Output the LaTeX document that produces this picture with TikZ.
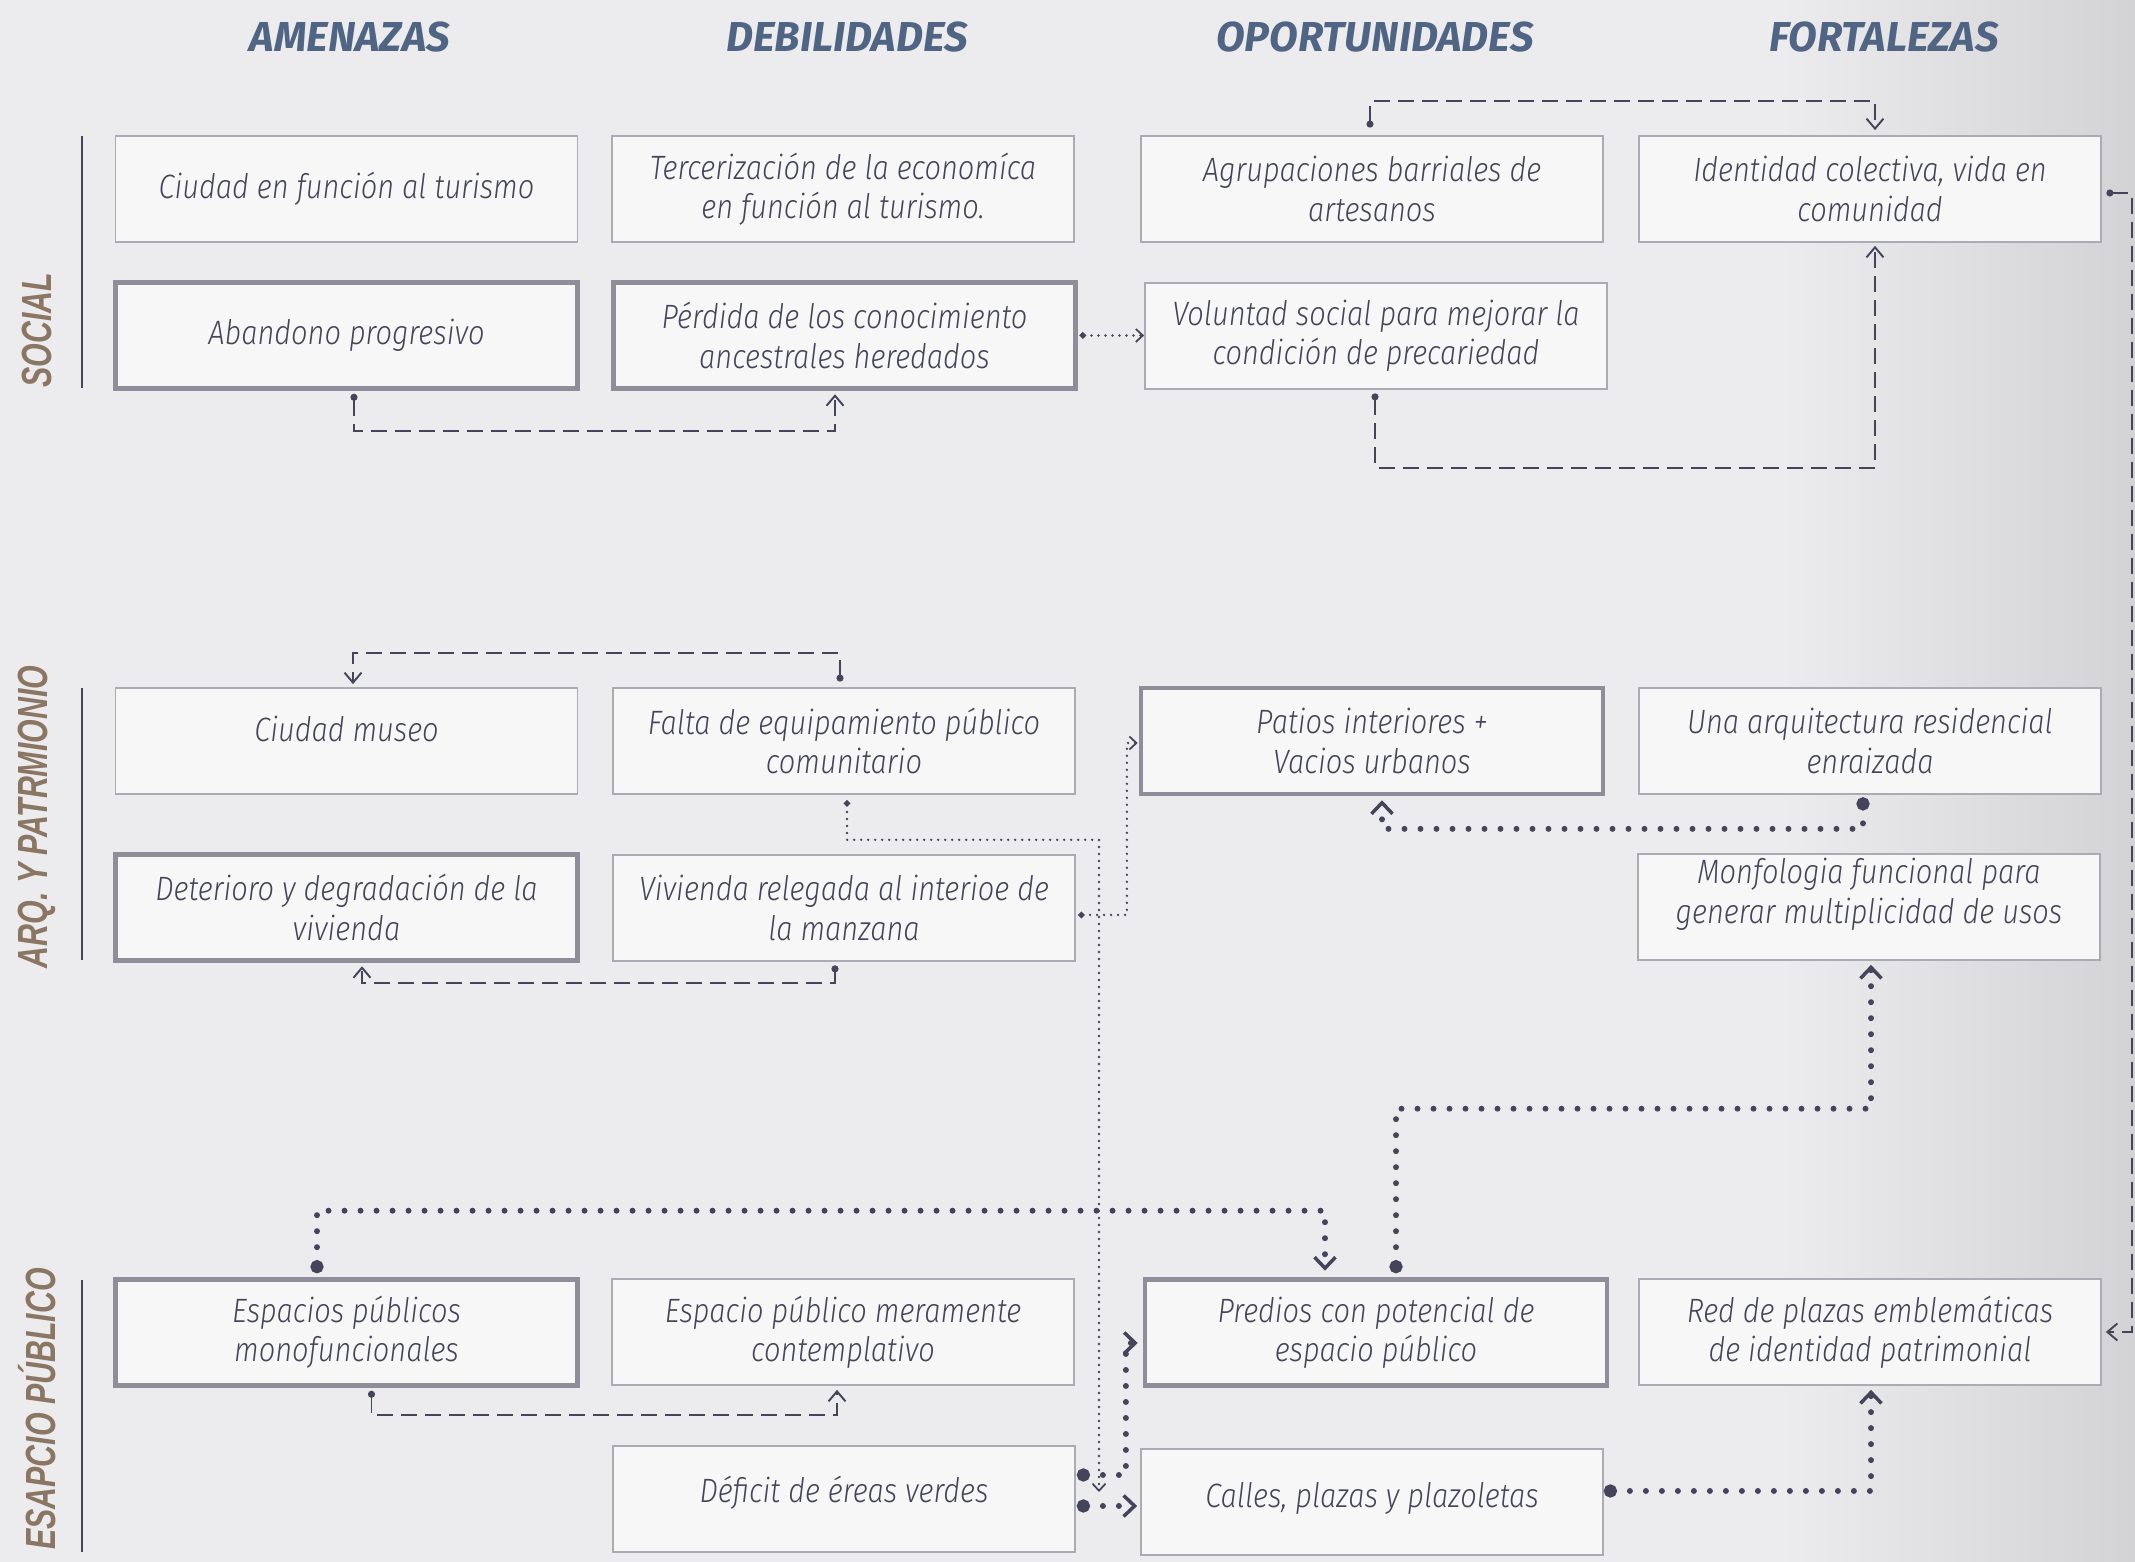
\documentclass[tikz,border=0pt]{standalone}
\usepackage{fontspec}
\setmainfont{Fira Sans}
\newfontfamily\boxfont{Fira Sans Light}[FakeStretch=0.86]
\newfontfamily\headfont{Fira Sans}
\newfontfamily\rowfont{Liberation Sans}
\usetikzlibrary{arrows.meta,positioning,shadings}
\definecolor{bgc}{HTML}{ECECEE}
\definecolor{edgec}{HTML}{D3D3D6}
\definecolor{boxfill}{HTML}{F7F7F7}
\definecolor{thinedge}{HTML}{ABABB6}
\definecolor{thickedge}{HTML}{8E8D99}
\definecolor{inkc}{HTML}{44445A}
\definecolor{headc}{HTML}{506583}
\definecolor{rowc}{HTML}{8A7662}
\tikzset{card/.style={draw=thinedge, line width=0.5pt, fill=boxfill, minimum width=4.62cm, minimum height=1.06cm,
  inner sep=0pt, align=center, text=inkc, font=\boxfont\itshape\fontsize{9.6}{11.2}\selectfont},
%boxes with the heavy frame
keycard/.style={card, draw=thickedge, line width=1.3pt},
colhead/.style={text=headc, font=\headfont\bfseries\itshape\fontsize{11.9}{14}\selectfont},
rowlabel/.style={rotate=90, text=rowc, font=\rowfont\bfseries\itshape\fontsize{12}{14}\selectfont},
dashlink/.style={draw=inkc, line width=0.55pt, dash pattern=on 1.6mm off 0.8mm,
  {Circle[length=0.7mm]}-{Straight Barb[length=1mm,width=1.7mm]}},
dotlink/.style={draw=inkc, line width=0.75pt, line cap=round, dash pattern=on 0pt off 0.7mm,
  {Circle[length=0.6mm]}-{Straight Barb[length=0.7mm,width=1.3mm,line width=0.5pt]}},
bigdots/.style={draw=inkc, line width=1.7pt, line cap=round, dash pattern=on 0pt off 1.6mm,
  {Circle[length=1.3mm]}-{Straight Barb[length=1.1mm,width=2.1mm,line width=1pt]}}}

\begin{document}
\begin{tikzpicture}

\useasboundingbox (0,0) rectangle (21.35,15.62);
\fill[bgc] (0,0) rectangle (21.35,15.62);
\shade[left color=bgc, right color=edgec] (17.8,0) rectangle (21.35,15.62);

% column heads
\node[colhead] (hA) at (3.50,15.25) {AMENAZAS};
\node[colhead] (hD) at (8.47,15.25) {DEBILIDADES};
\node[colhead] (hO) at (13.75,15.25) {OPORTUNIDADES};
\node[colhead] (hF) at (18.84,15.25) {FORTALEZAS};

% row labels
\node[rowlabel] (lsoc) at (0.37,12.32) {\scalebox{0.72}[1]{SOCIAL}};
\node[rowlabel] (larq) at (0.37,7.45) {\scalebox{0.72}[1]{ARQ. Y PATRMIONIO}};
\node[rowlabel] (lesp) at (0.37,1.53) {\scalebox{0.72}[1]{ESAPCIO PÚBLICO}};
\draw[inkc, line width=0.6pt] (0.82,14.26) -- (0.82,11.74);
\draw[inkc, line width=0.6pt] (0.82,8.74) -- (0.82,6.02);
\draw[inkc, line width=0.6pt] (0.82,2.82) -- (0.82,0.10);

% social
\node[card] (a1) at (3.465,13.73) {Ciudad en función al turismo};
\node[card] (d1) at (8.43,13.73) {Tercerización de la economíca\\en función al turismo.};
\node[card] (o1) at (13.72,13.73) {Agrupaciones barriales de\\artesanos};
\node[card] (f1) at (18.70,13.73) {Identidad colectiva, vida en\\comunidad};
\node[keycard] (a2) at (3.465,12.265) {Abandono progresivo};
\node[keycard] (d2) at (8.445,12.265) {Pérdida de los conocimiento\\ancestrales heredados};
\node[card] (o2) at (13.76,12.26) {Voluntad social para mejorar la\\condición de precariedad};

% arquitectura y patrimonio
\node[card, text depth=0.25cm] (a3) at (3.465,8.21) {Ciudad museo};
\node[card] (d3) at (8.44,8.21) {Falta de equipamiento público\\comunitario};
\node[keycard] (o3) at (13.72,8.21) {Patios interiores +\\Vacios urbanos};
\node[card] (f3) at (18.70,8.21) {Una arquitectura residencial\\enraizada};
\node[keycard] (a4) at (3.465,6.545) {Deterioro y degradación de la\\vivienda};
\node[card] (d4) at (8.44,6.54) {Vivienda relegada al interioe de\\la manzana};
\node[card] (f4) at (18.69,6.55) {Monfologia funcional para\\generar multiplicidad de usos\\[-2pt]~};

% espacio publico
\node[keycard] (a5) at (3.465,2.295) {Espacios públicos\\monofuncionales};
\node[card] (d5) at (8.43,2.30) {Espacio público meramente\\contemplativo};
\node[keycard] (o5) at (13.76,2.295) {Predios con potencial de\\espacio público};
\node[card] (f5) at (18.70,2.30) {Red de plazas emblemáticas\\de identidad patrimonial};
\node[card, text depth=0.2cm] (d6) at (8.44,0.63) {Déficit de éreas verdes};
\node[card, text depth=0.15cm] (o6) at (13.72,0.60) {Calles, plazas y plazoletas};
\coordinate (dropend) at (10.99,0.70);

% links, social
\draw[dashlink] ([xshift=0.75mm,yshift=-0.3mm]a2.south) -- ++(0,-0.375) -| ([xshift=-0.95mm,yshift=-0.35mm]d2.south);
\draw[dotlink] ([xshift=0.2mm]d2.east) -- (d2.east -| o2.west);
\draw[dashlink] ([xshift=-0.2mm,yshift=0.75mm]o1.north) -- ++(0,0.265) -| ([xshift=0.5mm,yshift=0.5mm]f1.north);
\draw[dashlink] ([xshift=-0.1mm,yshift=-0.35mm]o2.south) -- ++(0,-0.745) -| ([xshift=0.5mm,yshift=-0.3mm]f1.south);
\draw[dashlink] ([xshift=0.45mm,yshift=-0.4mm]f1.east) -- ++(0.255,0) |- ([xshift=0.4mm]f5.east);

% links, arq.
\draw[dashlink] ([xshift=-0.4mm,yshift=0.55mm]d3.north) -- ++(0,0.285) -| ([xshift=0.65mm,yshift=0.3mm]a3.north);
\draw[dashlink] ([xshift=-0.9mm,yshift=-0.35mm]d4.south) -- ++(0,-0.175) -| ([xshift=1.55mm,yshift=-0.35mm]a4.south);
\draw[dotlink] ([xshift=0.3mm,yshift=-0.55mm]d3.south) -- ++(0,-0.395) -| (dropend);
\draw[dotlink] ([xshift=0.25mm,yshift=-0.7mm]d4.east) -- ++(0.485,0) |- ([xshift=-0.1mm,yshift=-0.2mm]o3.west);
\draw[bigdots] ([xshift=-0.7mm,yshift=-0.25mm]f3.south) -- ++(0,-0.315) -| ([xshift=1mm,yshift=-0.4mm]o3.south);

% links, espacio publico
\draw[dashlink] ([xshift=2.5mm,yshift=-0.3mm]a5.south) -- ++(0,-0.245) -| ([xshift=-0.6mm,yshift=-0.4mm]d5.south);
\draw[bigdots] ([xshift=-2.95mm,yshift=0.4mm]a5.north) -- ++(0,0.625) -| ([xshift=-5.1mm,yshift=0.65mm]o5.north);
\draw[bigdots] ([xshift=2mm,yshift=0.4mm]o5.north) -- ++(0,1.645) -| ([xshift=0.2mm,yshift=-0.4mm]f4.south);
\draw[bigdots] ([xshift=0.1mm,yshift=2.4mm]d6.east) -- ++(0.49,0) |- ([xshift=-0.5mm,yshift=-1.05mm]o5.west);
\draw[bigdots] ([xshift=0.1mm,yshift=-0.7mm]d6.east) coordinate (cs) -- ([xshift=-0.3mm]cs -| o6.west);
\draw[bigdots] ([yshift=1.1mm]o6.east) -| ([xshift=0.1mm,yshift=-0.4mm]f5.south);

\end{tikzpicture}
\end{document}
